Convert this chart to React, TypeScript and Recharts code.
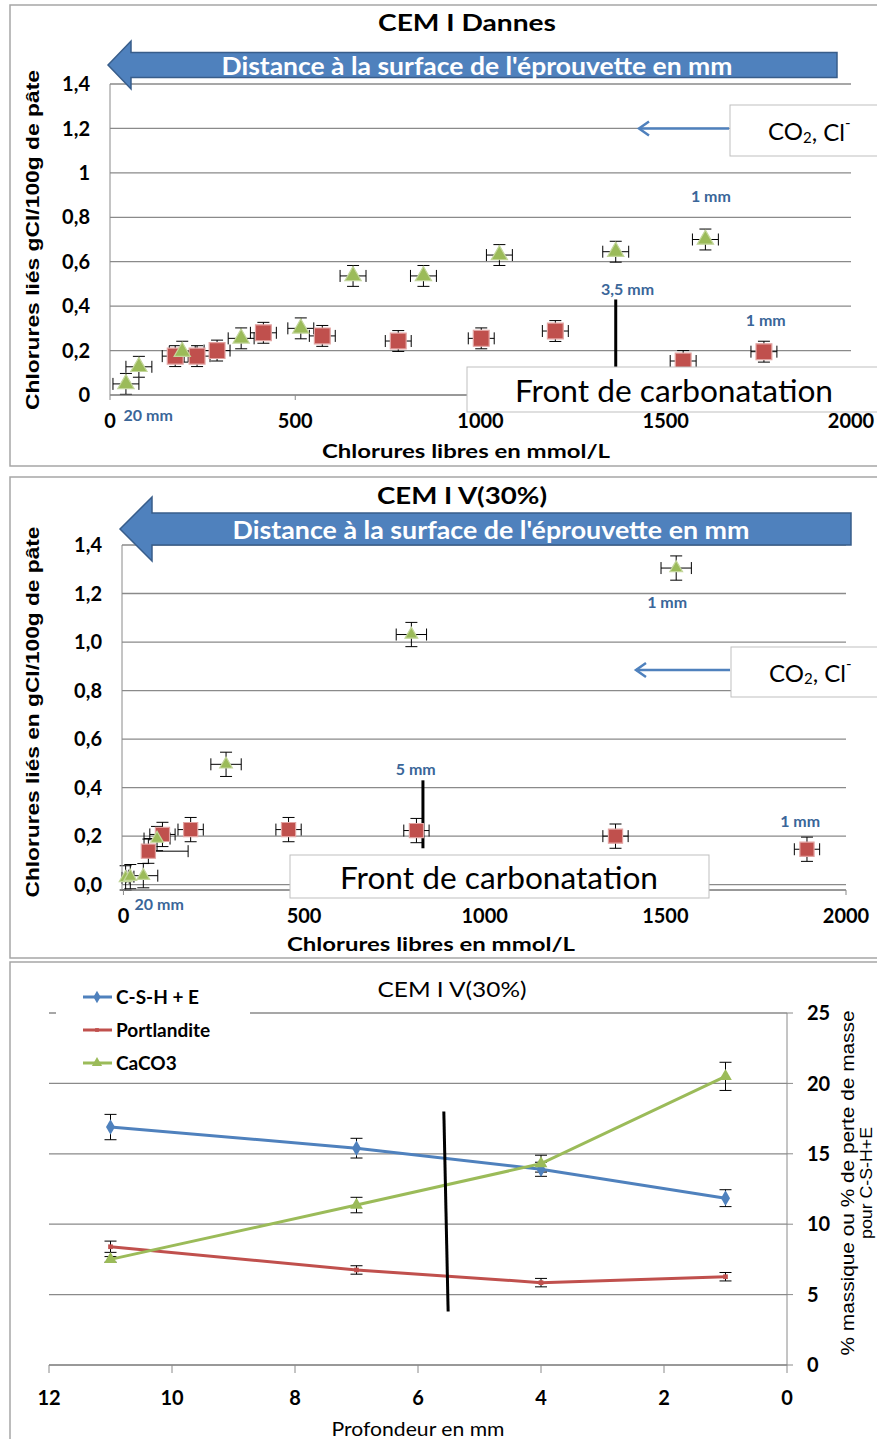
import React from 'react';
import {
  ScatterChart,
  Scatter,
  LineChart,
  Line,
  XAxis,
  YAxis,
  CartesianGrid,
  ErrorBar,
  ReferenceLine,
  ReferenceDot,
  Legend,
  Symbols,
} from 'recharts';

// --- CEM I Dannes (top panel) ---
const dannesSquareX = [176, 235, 289, 414, 573, 778, 1002, 1202, 1547, 1765];
const dannesSquareY = [0.175, 0.175, 0.2, 0.28, 0.266, 0.243, 0.255, 0.288, 0.153, 0.195];
const dannesTriX = [43, 78, 195, 354, 515, 656, 846, 1051, 1365, 1607];
const dannesTriY = [0.05, 0.127, 0.195, 0.255, 0.3, 0.536, 0.536, 0.63, 0.645, 0.7];
const dannesErrX = 35;
const dannesErrY = 0.047;
const dannesYTicks = [0, 0.2, 0.4, 0.6, 0.8, 1, 1.2, 1.4];

// --- CEM I V(30%) (middle panel) ---
const v30SquareX = [69, 108, 186, 457, 811, 1362, 1892];
const v30SquareY = [0.138, 0.207, 0.227, 0.227, 0.223, 0.2, 0.146];
const v30SquareErrX: (number | number[])[] = [[15, 110], 35, 35, 35, 35, 35, 35];
const v30TriX = [6, 19, 55, 93, 284, 797, 1530];
const v30TriY = [0.028, 0.033, 0.037, 0.19, 0.496, 1.031, 1.305];
const v30TriErrX = [10, 10, 40, 36, 42, 42, 42];
const v30ErrY = 0.05;
const v30YTicks = [0, 0.2, 0.4, 0.6, 0.8, 1, 1.2, 1.4];

const chlorideTicks = [0, 500, 1000, 1500, 2000];

// --- CEM I V(30%) mineralogy vs depth (bottom panel) ---
const depths = [11, 7, 4, 1];
const cshValues = [16.9, 15.4, 13.9, 11.85];
const cshErr = [0.9, 0.7, 0.5, 0.6];
const portValues = [8.4, 6.75, 5.85, 6.27];
const portErr = [0.4, 0.3, 0.3, 0.3];
const caco3Values = [7.5, 11.36, 14.3, 20.5];
const caco3Err = [0.2, 0.55, 0.6, 1.0];
const depthTicks = [0, 2, 4, 6, 8, 10, 12];
const massTicks = [0, 5, 10, 15, 20, 25];
const seriesNames = ['C-S-H + E', 'Portlandite', 'CaCO3'];

const BLUE = '#4F81BD';
const RED = '#C0504D';
const GREEN = '#9BBB59';
const GRID = '#8a8a8a';
const LABEL_BLUE = '#3A6699';
const NARROW = "Lato, 'Open Sans', sans-serif";
const ARIAL = "'Liberation Sans', Arial, sans-serif";

const tickStyle = { fontFamily: NARROW, fontWeight: 700, fontSize: 20, fill: '#000' };

const toPoints = (xs: number[], ys: number[], ex: any, ey: number) =>
  xs.map((x, i) => ({ x, y: ys[i], ex: Array.isArray(ex) ? ex[i] : ex, ey }));

const dannesSquares = toPoints(dannesSquareX, dannesSquareY, dannesErrX, dannesErrY);
const dannesTris = toPoints(dannesTriX, dannesTriY, dannesErrX, dannesErrY);
const v30Squares = toPoints(v30SquareX, v30SquareY, v30SquareErrX, v30ErrY);
const v30Tris = toPoints(v30TriX, v30TriY, v30TriErrX, v30ErrY);

const depthData = depths.map((depth, i) => ({
  depth,
  csh: cshValues[i],
  cshErr: cshErr[i],
  port: portValues[i],
  portErr: portErr[i],
  caco3: caco3Values[i],
  caco3Err: caco3Err[i],
}));

const commaTick = (v: number) => String(Math.round(v * 10) / 10).replace('.', ',');
const commaTickFixed = (v: number) => v.toFixed(1).replace('.', ',');

const marker = (type: 'square' | 'triangle', size: number) => (p: any) => (
  <Symbols
    cx={p.cx}
    cy={p.cy}
    type={type}
    size={size}
    fill={type === 'square' ? RED : GREEN}
    stroke={type === 'square' ? '#E2A3A1' : '#C3D69B'}
    strokeWidth={1.2}
  />
);

const mmLabel = (value: string) => ({
  value,
  position: 'center' as const,
  fill: LABEL_BLUE,
  fontFamily: NARROW,
  fontWeight: 700,
  fontSize: 16,
});

function DannesChart() {
  return (
    <ScatterChart width={867} height={461} margin={{ top: 79, right: 26, bottom: 0, left: 0 }}>
      <CartesianGrid vertical={false} stroke={GRID} strokeWidth={1.3} />
      <XAxis type="number" dataKey="x" domain={[0, 2000]} ticks={chlorideTicks} height={71}
        tick={tickStyle} tickSize={5} tickMargin={14} stroke={GRID} />
      <YAxis type="number" dataKey="y" domain={[0, 1.4]} ticks={dannesYTicks} width={100}
        tick={tickStyle} tickLine={false} tickSize={0} tickMargin={20} stroke={GRID} tickFormatter={commaTick} />
      <ReferenceLine segment={[{ x: 1365, y: 0.43 }, { x: 1365, y: 0.1 }]} stroke="#000" strokeWidth={3} />
      <Scatter data={dannesSquares} shape={marker('square', 250)} isAnimationActive={false}>
        <ErrorBar dataKey="ex" direction="x" width={6} stroke="#000" strokeWidth={1} />
        <ErrorBar dataKey="ey" direction="y" width={6} stroke="#000" strokeWidth={1} />
      </Scatter>
      <Scatter data={dannesTris} shape={marker('triangle', 115)} isAnimationActive={false}>
        <ErrorBar dataKey="ex" direction="x" width={6} stroke="#000" strokeWidth={1} />
        <ErrorBar dataKey="ey" direction="y" width={6} stroke="#000" strokeWidth={1} />
      </Scatter>
      <ReferenceDot x={1397} y={0.477} r={0} ifOverflow="visible" label={mmLabel('3,5 mm')} />
      <ReferenceDot x={1622} y={0.896} r={0} ifOverflow="visible" label={mmLabel('1 mm')} />
      <ReferenceDot x={1770} y={0.338} r={0} ifOverflow="visible" label={mmLabel('1 mm')} />
      <ReferenceDot x={103} y={-0.09} r={0} ifOverflow="visible" label={mmLabel('20 mm')} />
    </ScatterChart>
  );
}

function V30Chart() {
  return (
    <ScatterChart width={867} height={481} margin={{ top: 68, right: 31, bottom: 0, left: 0 }}>
      <CartesianGrid vertical={false} stroke={GRID} strokeWidth={1.3} />
      <XAxis type="number" dataKey="x" domain={[0, 2000]} ticks={chlorideTicks} height={68}
        tick={tickStyle} tickSize={5} tickMargin={14} stroke={GRID} />
      <YAxis type="number" dataKey="y" domain={[0, 1.4]} ticks={v30YTicks} width={112}
        tick={tickStyle} tickLine={false} tickSize={0} tickMargin={20} stroke={GRID} tickFormatter={commaTickFixed} />
      <ReferenceLine segment={[{ x: 829, y: 0.43 }, { x: 829, y: 0.15 }]} stroke="#000" strokeWidth={3} />
      <Scatter data={v30Squares} shape={marker('square', 200)} isAnimationActive={false}>
        <ErrorBar dataKey="ex" direction="x" width={6} stroke="#000" strokeWidth={1} />
        <ErrorBar dataKey="ey" direction="y" width={6} stroke="#000" strokeWidth={1} />
      </Scatter>
      <Scatter data={v30Tris} shape={marker('triangle', 70)} isAnimationActive={false}>
        <ErrorBar dataKey="ex" direction="x" width={6} stroke="#000" strokeWidth={1} />
        <ErrorBar dataKey="ey" direction="y" width={6} stroke="#000" strokeWidth={1} />
      </Scatter>
      <ReferenceDot x={809} y={0.474} r={0} ifOverflow="visible" label={mmLabel('5 mm')} />
      <ReferenceDot x={1505} y={1.163} r={0} ifOverflow="visible" label={mmLabel('1 mm')} />
      <ReferenceDot x={1873} y={0.263} r={0} ifOverflow="visible" label={mmLabel('1 mm')} />
      <ReferenceDot x={99} y={-0.083} r={0} ifOverflow="visible" label={mmLabel('20 mm')} />
    </ScatterChart>
  );
}

const legendShapes: ('diamond' | 'square' | 'triangle')[] = ['diamond', 'square', 'triangle'];
const legendColors = [BLUE, RED, GREEN];
const legendSizes = [45, 14, 45];

function DepthLegend() {
  return (
    <div style={{ width: 194, height: 98, background: '#fff' }}>
      {seriesNames.map((name, i) => (
        <div key={name} style={{ height: 33, display: 'flex', alignItems: 'center' }}>
          <svg width={60} height={16} style={{ flex: 'none' }}>
            <line x1={27} y1={8} x2={56} y2={8} stroke={legendColors[i]} strokeWidth={3} />
            <Symbols cx={41} cy={8} type={legendShapes[i]} size={legendSizes[i]} fill={legendColors[i]} />
          </svg>
          <span style={{ fontFamily: NARROW, fontWeight: 700, fontSize: 19, color: '#000' }}>{name}</span>
        </div>
      ))}
    </div>
  );
}

const lineDot = (type: 'diamond' | 'square' | 'triangle', size: number, color: string) => (p: any) => (
  <Symbols key={`${type}-${p.index}`} cx={p.cx} cy={p.cy} type={type} size={size} fill={color} />
);

function DepthChart() {
  return (
    <LineChart width={867} height={477} data={depthData} margin={{ top: 51, right: 0, bottom: 0, left: 39 }}>
      <CartesianGrid vertical={false} stroke={GRID} strokeWidth={1.3} />
      <XAxis type="number" dataKey="depth" domain={[0, 12]} ticks={depthTicks} reversed height={74}
        tick={tickStyle} tickSize={8} tickMargin={18} stroke={GRID} />
      <YAxis orientation="right" type="number" domain={[0, 25]} ticks={massTicks} width={90}
        tick={tickStyle} tickSize={6} tickMargin={14} stroke={GRID} />
      <Legend layout="vertical" align="center" verticalAlign="middle" content={() => <DepthLegend />}
        wrapperStyle={{ left: 46, top: 18, width: 194, height: 98 }} />
      <Line type="linear" dataKey="csh" name={seriesNames[0]} stroke={BLUE} strokeWidth={3}
        dot={lineDot('diamond', 70, BLUE)} isAnimationActive={false}>
        <ErrorBar dataKey="cshErr" direction="y" width={6} stroke="#000" strokeWidth={1} />
      </Line>
      <Line type="linear" dataKey="port" name={seriesNames[1]} stroke={RED} strokeWidth={3}
        dot={lineDot('square', 22, RED)} isAnimationActive={false}>
        <ErrorBar dataKey="portErr" direction="y" width={6} stroke="#000" strokeWidth={1} />
      </Line>
      <Line type="linear" dataKey="caco3" name={seriesNames[2]} stroke={GREEN} strokeWidth={3}
        dot={lineDot('triangle', 70, GREEN)} isAnimationActive={false}>
        <ErrorBar dataKey="caco3Err" direction="y" width={6} stroke="#000" strokeWidth={1} />
      </Line>
      <ReferenceLine segment={[{ x: 5.58, y: 18 }, { x: 5.51, y: 3.8 }]} stroke="#000" strokeWidth={3} />
    </LineChart>
  );
}

function FitText(props: {
  x: number; y: number; len: number; size: number; children: React.ReactNode;
  family?: string; weight?: number; fill?: string; rotate?: boolean;
}) {
  const { x, y, len, size, children, family = NARROW, weight = 700, fill = '#000', rotate } = props;
  return (
    <text
      x={rotate ? 0 : x}
      y={rotate ? 0 : y}
      transform={rotate ? `translate(${x},${y}) rotate(-90)` : undefined}
      textAnchor="middle"
      dominantBaseline="central"
      fontFamily={family}
      fontWeight={weight}
      fontSize={size}
      fill={fill}
      textLength={len}
      lengthAdjust="spacingAndGlyphs"
    >
      {children}
    </text>
  );
}

function BlueArrow({ tipX, midY, headBackX, headHalf, shaftHalf, endX, text, textX, textLen }: any) {
  const pts = [
    [tipX, midY],
    [headBackX, midY - headHalf],
    [headBackX, midY - shaftHalf],
    [endX, midY - shaftHalf],
    [endX, midY + shaftHalf],
    [headBackX, midY + shaftHalf],
    [headBackX, midY + headHalf],
  ].map((p) => p.join(',')).join(' ');
  return (
    <g>
      <polygon points={pts} fill={BLUE} stroke="#385D8A" strokeWidth={1.5} />
      <FitText x={textX} y={midY} len={textLen} size={24} fill="#fff">{text}</FitText>
    </g>
  );
}

function Co2Box({ x, y, w, h, arrowTo }: any) {
  const cy = y + h / 2;
  return (
    <g>
      <rect x={x} y={y} width={w} height={h} fill="#fff" stroke="#bfbfbf" strokeWidth={1} />
      <line x1={x - 1} y1={cy - 2} x2={arrowTo} y2={cy - 2} stroke={BLUE} strokeWidth={2.5} />
      <path d={`M${arrowTo + 10},${cy - 9} L${arrowTo},${cy - 2} L${arrowTo + 10},${cy + 5}`}
        fill="none" stroke={BLUE} strokeWidth={2.5} />
      <text x={x + 38} y={cy} dominantBaseline="central" fontFamily={NARROW} fontSize={24} fill="#000">
        CO<tspan dy={6} fontSize={15}>2</tspan><tspan dy={-6}>, Cl</tspan><tspan dy={-9} fontSize={15}>-</tspan>
      </text>
    </g>
  );
}

function FrontBox({ x, y, w, h, textX, textLen }: any) {
  return (
    <g>
      <rect x={x} y={y} width={w} height={h} fill="#fff" stroke="#bfbfbf" strokeWidth={1} />
      <FitText x={textX} y={y + h / 2} len={textLen} size={30} weight={400}>Front de carbonatation</FitText>
    </g>
  );
}

function Overlay() {
  return (
    <svg width={877} height={1439} style={{ position: 'absolute', left: 0, top: 0, pointerEvents: 'none' }}>
      {/* panel frames */}
      <rect x={10} y={5} width={880} height={461} fill="none" stroke="#a6a6a6" strokeWidth={1.5} />
      <rect x={10} y={477} width={880} height={481} fill="none" stroke="#a6a6a6" strokeWidth={1.5} />
      <rect x={10} y={962} width={880} height={490} fill="none" stroke="#a6a6a6" strokeWidth={1.5} />

      {/* top panel */}
      <FitText x={467} y={22} len={178} size={23}>CEM I Dannes</FitText>
      <BlueArrow tipX={108} midY={65} headBackX={131} headHalf={24} shaftHalf={12.5} endX={837}
        text="Distance à la surface de l'éprouvette en mm" textX={477} textLen={511} />
      <Co2Box x={730} y={105} w={160} h={51} arrowTo={639} />
      <FrontBox x={467} y={367} w={420} h={45} textX={674} textLen={318} />
      <FitText x={466} y={450} len={288} size={19}>Chlorures libres en mmol/L</FitText>
      <FitText x={33} y={240} len={340} size={18} family={ARIAL} rotate>Chlorures liés gCl/100g  de pâte</FitText>

      {/* middle panel */}
      <FitText x={462} y={495} len={170} size={23}>CEM I V(30%)</FitText>
      <BlueArrow tipX={120} midY={529} headBackX={152} headHalf={32} shaftHalf={16} endX={851}
        text="Distance à la surface  de l'éprouvette en mm" textX={491} textLen={517} />
      <Co2Box x={731} y={647} w={160} h={50} arrowTo={636} />
      <FrontBox x={290} y={855} w={419} h={43} textX={499} textLen={318} />
      <FitText x={431} y={943} len={288} size={19}>Chlorures libres en mmol/L</FitText>
      <FitText x={33} y={712} len={371} size={18} family={ARIAL} rotate>Chlorures liés en gCl/100g  de pâte</FitText>

      {/* bottom panel */}
      <FitText x={452} y={988} len={149} size={22} weight={400}>CEM I V(30%)</FitText>
      <FitText x={418} y={1428} len={173} size={19} weight={400}>Profondeur en mm</FitText>
      <FitText x={848} y={1183} len={345} size={18} weight={400} family={ARIAL} rotate>
        % massique  ou % de perte de masse
      </FitText>
      <FitText x={866} y={1183} len={112} size={16} weight={400} family={ARIAL} rotate>pour C-S-H+E</FitText>
    </svg>
  );
}

export default function App() {
  return (
    <div style={{ position: 'absolute', left: 0, top: 0, width: 877, height: 1439, overflow: 'hidden', background: '#fff' }}>
      <div style={{ position: 'absolute', left: 10, top: 5 }}>
        <DannesChart />
      </div>
      <div style={{ position: 'absolute', left: 10, top: 477 }}>
        <V30Chart />
      </div>
      <div style={{ position: 'absolute', left: 10, top: 962 }}>
        <DepthChart />
      </div>
      <Overlay />
    </div>
  );
}
